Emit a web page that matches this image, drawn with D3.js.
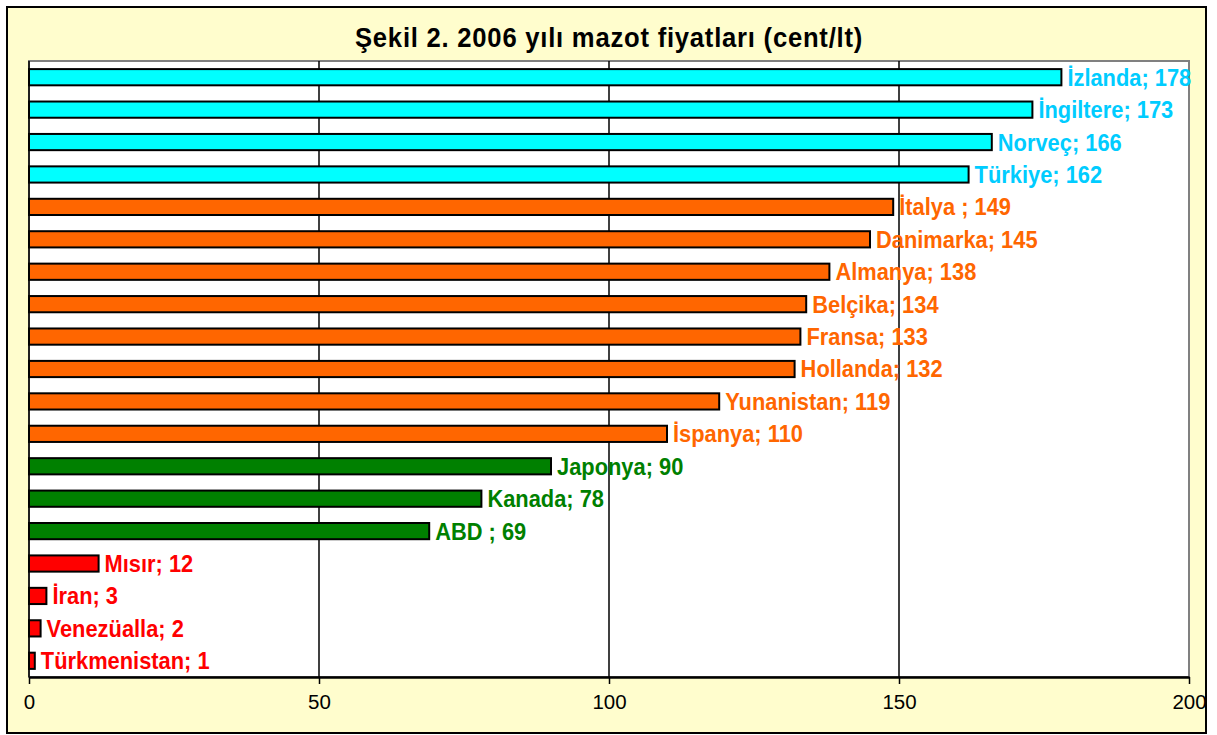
<!DOCTYPE html>
<html><head><meta charset="utf-8">
<script src="https://cdn.jsdelivr.net/npm/d3@7"></script>
<style>
html,body{margin:0;padding:0;background:#fff;}
svg{display:block;font-family:"Liberation Sans",Arial,sans-serif;}
</style></head>
<body><svg id="chart" width="1217" height="735"></svg>
<script>
const countries = ["İzlanda","İngiltere","Norveç","Türkiye","İtalya ","Danimarka","Almanya","Belçika","Fransa","Hollanda","Yunanistan","İspanya","Japonya","Kanada","ABD ","Mısır","İran","Venezüalla","Türkmenistan"];
const prices = [178,173,166,162,149,145,138,134,133,132,119,110,90,78,69,12,3,2,1];
const groups = ["high","high","high","high","eu","eu","eu","eu","eu","eu","eu","eu","mid","mid","mid","low","low","low","low"];
const xTicks = [0,50,100,150,200];
const title = "Şekil 2. 2006 yılı mazot fiyatları (cent/lt)";

const barColor = {high:"#00FFFF", eu:"#FF6600", mid:"#008000", low:"#FF0000"};
const labelColor = {high:"#00CCFF", eu:"#FF6600", mid:"#008000", low:"#FF0000"};

const svg = d3.select("#chart");
const W = 1217, H = 735;
const m = {left:29, right:28, top:61, bottom:58};

// outer frame
svg.append("rect").attr("x",7).attr("y",7).attr("width",1199).attr("height",726)
  .attr("fill","#FFFDCD").attr("stroke","#000").attr("stroke-width",2);

const x = d3.scaleLinear().domain([0,200]).range([m.left, W - m.right]);
const y = d3.scaleBand().domain(countries).range([m.top, H - m.bottom]).paddingInner(0.5).paddingOuter(0.25);

// plot area
svg.append("rect").attr("x",x(0)).attr("y",m.top).attr("width",x(200)-x(0)).attr("height",(H-m.bottom)-m.top)
  .attr("fill","#fff").attr("stroke","#808080").attr("stroke-width",2);

// gridlines
svg.append("g").selectAll("line").data(xTicks.slice(1,-1)).join("line")
  .attr("x1",d=>x(d)).attr("x2",d=>x(d)).attr("y1",m.top).attr("y2",H-m.bottom)
  .attr("stroke","#000").attr("stroke-width",1.5);

// left axis line
svg.append("line").attr("x1",x(0)).attr("x2",x(0)).attr("y1",m.top).attr("y2",H-m.bottom)
  .attr("stroke","#000").attr("stroke-width",1.5);

// bottom axis
const xAxis = d3.axisBottom(x).tickValues(xTicks).tickSize(7).tickPadding(10).tickSizeOuter(0);
const gx = svg.append("g").attr("transform",`translate(0,${H-m.bottom})`).call(xAxis);
gx.select(".domain").attr("stroke","#000").attr("stroke-width",2.5);
gx.selectAll(".tick line").attr("stroke","#000").attr("stroke-width",1.5);
gx.selectAll(".tick text").attr("font-size",20.5).attr("fill","#000").attr("font-family","Liberation Sans, Arial, sans-serif");

// bars
svg.append("g").selectAll("rect").data(countries).join("rect")
  .attr("x",x(0)).attr("y",d=>y(d))
  .attr("width",(d,i)=>x(prices[i])-x(0)).attr("height",y.bandwidth())
  .attr("fill",(d,i)=>barColor[groups[i]]).attr("stroke","#000").attr("stroke-width",2);

// labels (slightly condensed, taller glyphs)
svg.append("g").selectAll("text").data(countries).join("text")
  .attr("transform",(d,i)=>`translate(${x(prices[i])+6},${y(d)+y.bandwidth()/2}) scale(0.93,1)`)
  .attr("dy","0.36em").attr("font-size",23.5).attr("font-weight","bold")
  .attr("fill",(d,i)=>labelColor[groups[i]])
  .text((d,i)=>`${d}; ${prices[i]}`);

// title
svg.append("text").attr("transform",`translate(${(x(0)+x(200))/2},47) scale(0.95,1)`).attr("text-anchor","middle")
  .attr("font-size",27).attr("font-weight","bold").attr("letter-spacing",0.8).attr("fill","#000").text(title);
</script></body></html>
